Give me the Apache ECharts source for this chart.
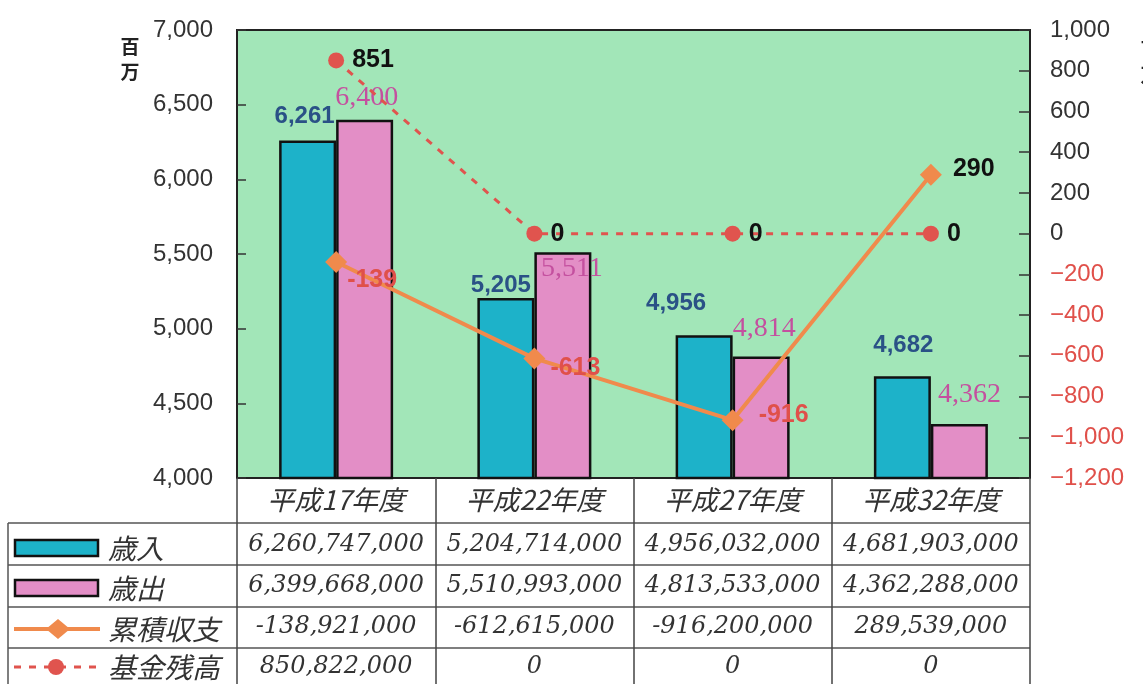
<!DOCTYPE html>
<html><head><meta charset="utf-8">
<script src="https://cdn.jsdelivr.net/npm/echarts@6/dist/echarts.min.js"></script>
<style>html,body{margin:0;padding:0;background:#fff}#c{width:1143px;height:684px}</style>
</head><body><div id="c"></div>
<script>
// ---- data ----
const categories = ['平成17年度', '平成22年度', '平成27年度', '平成32年度'];
const seriesNames = ['歳入', '歳出', '累積収支', '基金残高'];
const revenueYen = [6260747000, 5204714000, 4956032000, 4681903000];
const expenditureYen = [6399668000, 5510993000, 4813533000, 4362288000];
const balanceYen = [-138921000, -612615000, -916200000, 289539000];
const fundYen = [850822000, 0, 0, 0];
const leftAxis = { min: 4000, max: 7000, interval: 500 };
const rightAxis = { min: -1200, max: 1000, interval: 200 };
const unitChars = ['百', '万'];

// ---- label placement (style only) ----
const revLabelOffsets = [[-3, -7], [-5, 4], [-28, -15], [1, -14]];
const expLabelOffsets = [[2, -3], [9, -3], [3, -9], [10, -10]];
const expLabelPos = ['top', 'insideTop', 'top', 'top'];
const balLabelOffsets = [[-5, 18], [0, 10], [10, -5], [6, -6]];
const balLabelColors = ['#e0504a', '#e0504a', '#e0504a', '#111'];

const toMillion = v => v / 1e6;
const fmt = v => Math.round(v).toLocaleString('en-US');
const fmtAxis = v => (v < 0 ? '\u2212' : '') + Math.abs(v).toLocaleString('en-US');

const chart = echarts.init(document.getElementById('c'), null, { renderer: 'canvas' });

const GREEN = '#a2e6b8', BLUE = '#1db2c9', PINK = '#e38ec6', ORANGE = '#f08a4c', RED = '#e0544e';

const revData = revenueYen.map((v, i) => ({ value: toMillion(v), label: { offset: revLabelOffsets[i] } }));
const expData = expenditureYen.map((v, i) => ({ value: toMillion(v), label: { position: expLabelPos[i], offset: expLabelOffsets[i] } }));
const balData = balanceYen.map((v, i) => ({ value: toMillion(v), label: { offset: balLabelOffsets[i], color: balLabelColors[i] } }));
const fundData = fundYen.map(v => toMillion(v));

const option = {
  animation: false,
  backgroundColor: '#fff',
  textStyle: { fontFamily: 'Liberation Sans, Arial, sans-serif' },
  grid: { left: 237, right: 113, top: 30, height: 448, show: true, backgroundColor: GREEN, borderColor: '#222', borderWidth: 2 },
  xAxis: {
    type: 'category', data: categories,
    axisLine: { show: true, onZero: false, lineStyle: { color: '#222', width: 2 } },
    axisTick: { show: true, interval: 0, length: 210, lineStyle: { color: '#444', width: 1.5 } },
    axisLabel: { margin: 8, fontSize: 27, fontStyle: 'italic', color: '#333', fontFamily: 'Noto Sans CJK JP' },
    splitLine: { show: false }
  },
  yAxis: [
    { type: 'value', min: leftAxis.min, max: leftAxis.max, interval: leftAxis.interval,
      axisLine: { show: true, lineStyle: { color: '#222', width: 2 } },
      axisTick: { show: true, inside: true, length: 9, lineStyle: { color: '#333', width: 1.5 } },
      axisLabel: { margin: 24, fontSize: 24, color: '#333', formatter: fmtAxis },
      splitLine: { show: false } },
    { type: 'value', min: rightAxis.min, max: rightAxis.max, interval: rightAxis.interval,
      axisLine: { show: true, lineStyle: { color: '#222', width: 2 } },
      axisTick: { show: true, inside: true, length: 11, lineStyle: { color: '#333', width: 1.5 } },
      axisLabel: { margin: 20, fontSize: 24, formatter: fmtAxis,
        color: v => (Number(v) < 0 ? '#e0504a' : '#333') },
      splitLine: { show: false } }
  ],
  series: [
    { name: seriesNames[0], type: 'bar', data: revData, barWidth: 57, barGap: '0%', z: 2,
      itemStyle: { color: BLUE, borderColor: '#111', borderWidth: 2.5 },
      label: { show: true, position: 'top', formatter: p => fmt(p.value), color: '#2a5186', fontSize: 24, fontWeight: 'bold' } },
    { name: seriesNames[1], type: 'bar', data: expData, barWidth: 57, barGap: '0%', z: 2,
      itemStyle: { color: PINK, borderColor: '#111', borderWidth: 2.5 },
      label: { show: true, position: 'top', formatter: p => fmt(p.value), color: '#c4509f', fontSize: 28, fontFamily: 'Liberation Serif, serif' } },
    { name: seriesNames[2], type: 'line', yAxisIndex: 1, data: balData, z: 5,
      symbol: 'diamond', symbolSize: 22,
      lineStyle: { color: ORANGE, width: 4 }, itemStyle: { color: ORANGE },
      label: { show: true, position: 'right', formatter: p => fmt(p.value), fontSize: 25, fontWeight: 'bold' } },
    { name: seriesNames[3], type: 'line', yAxisIndex: 1, data: fundData, z: 4,
      symbol: 'circle', symbolSize: 16,
      lineStyle: { color: RED, width: 3, type: [7, 8] }, itemStyle: { color: RED },
      label: { show: true, position: 'right', distance: 8, formatter: p => fmt(p.value), color: '#111', fontSize: 25, fontWeight: 'bold' } }
  ]
};
chart.setOption(option);

// ---- data table below the plot, with its legend column ----
const rowsYen = [revenueYen, expenditureYen, balanceYen, fundYen];
const rowCenters = [545, 586, 627, 667];
const rowLines = [523, 565, 607, 648];
const px = i => chart.convertToPixel({ xAxisIndex: 0 }, i);
const xRight = px(categories.length - 1) + (px(1) - px(0)) / 2;
const LINE = { stroke: '#555', lineWidth: 1.5 };
const graphics = [];
rowLines.forEach(y => graphics.push({ type: 'line', shape: { x1: 8, y1: y, x2: xRight, y2: y }, style: LINE }));
graphics.push({ type: 'line', shape: { x1: 8, y1: 523, x2: 8, y2: 684 }, style: LINE });
rowsYen.forEach((row, r) => {
  row.forEach((v, i) => {
    graphics.push({ type: 'text', x: px(i), y: rowCenters[r], style: {
      text: v.toLocaleString('en-US'), fill: '#333', fontStyle: 'italic', fontSize: 24, fontFamily: 'DejaVu Serif',
      align: 'center', verticalAlign: 'middle' } });
  });
});
// legend keys
const legendY = [548, 588, 629, 667];
graphics.push({ type: 'rect', shape: { x: 15, y: legendY[0] - 8, width: 83, height: 16 }, style: { fill: BLUE, stroke: '#111', lineWidth: 2.5 } });
graphics.push({ type: 'rect', shape: { x: 15, y: legendY[1] - 8, width: 83, height: 16 }, style: { fill: PINK, stroke: '#111', lineWidth: 2.5 } });
graphics.push({ type: 'line', shape: { x1: 14, y1: legendY[2], x2: 100, y2: legendY[2] }, style: { stroke: ORANGE, lineWidth: 4 } });
graphics.push({ type: 'polygon', shape: { points: [[58, legendY[2] - 10], [70, legendY[2]], [58, legendY[2] + 10], [46, legendY[2]]] }, style: { fill: ORANGE } });
graphics.push({ type: 'line', shape: { x1: 14, y1: legendY[3], x2: 100, y2: legendY[3] }, style: { stroke: RED, lineWidth: 3, lineDash: [7, 8] } });
graphics.push({ type: 'circle', shape: { cx: 56, cy: legendY[3], r: 8 }, style: { fill: RED } });
seriesNames.forEach((n, r) => graphics.push({ type: 'text', x: 108, y: legendY[r], style: {
  text: n, fill: '#333', fontStyle: 'italic', fontSize: 28, fontFamily: 'Noto Sans CJK JP', align: 'left', verticalAlign: 'middle' } }));
// units (one character per line)
[[130, 47], [1150, 50]].forEach(([x, y]) => {
  unitChars.forEach((ch, k) => graphics.push({ type: 'text', x: x, y: y + k * 25, style: {
    text: ch, fill: '#222', fontWeight: 'bold', fontSize: 19, fontFamily: 'Noto Sans CJK JP', align: 'center', verticalAlign: 'middle' } }));
});
chart.setOption({ graphic: graphics });
</script></body></html>
